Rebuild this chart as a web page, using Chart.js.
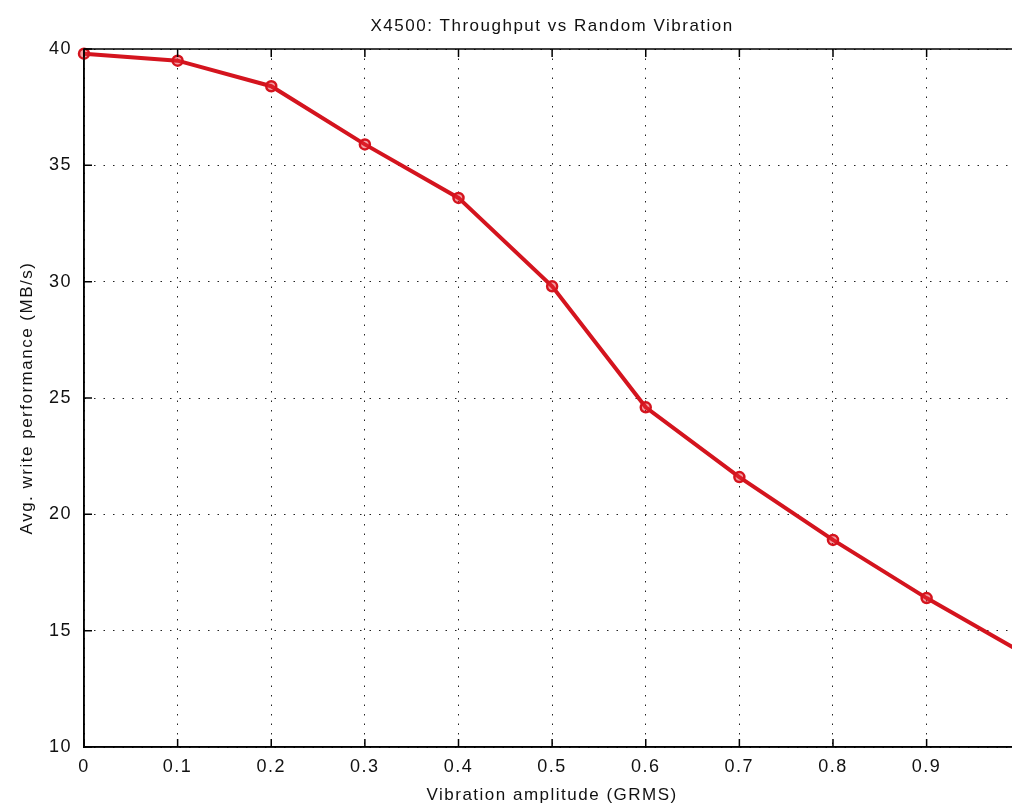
<!DOCTYPE html>
<html>
<head>
<meta charset="utf-8">
<title>X4500: Throughput vs Random Vibration</title>
<script src="https://cdn.jsdelivr.net/npm/chart.js@4.4.1/dist/chart.umd.min.js"></script>
<style>
    html, body { margin: 0; padding: 0; background: #ffffff; overflow: hidden; }
    #wrap { width: 1035px; height: 807px; }
</style>
</head>
<body>
<div id="wrap"><canvas id="vibChart"></canvas></div>
<script>
const amplitude = [0, 0.1, 0.2, 0.3, 0.4, 0.5, 0.6, 0.7, 0.8, 0.9, 1.0];
const writeRate = [39.8, 39.5, 38.4, 35.9, 33.6, 29.8, 24.6, 21.6, 18.9, 16.4, 14.1];
const yTicks = [10, 15, 20, 25, 30, 35, 40];

const fontFamily = "'Liberation Sans', Arial, sans-serif";

// letter spacing has to be reapplied, the canvas resets it on resize
const spacingPlugin = {
    id: 'spacing',
    beforeUpdate(chart) { chart.ctx.letterSpacing = '1.5px'; },
    beforeRender(chart) { chart.ctx.letterSpacing = '1.5px'; }
};

// box round the axes plus the inward tick marks
const boxPlugin = {
    id: 'box',
    afterDraw(chart) {
        const { ctx, chartArea: a, scales } = chart;
        ctx.save();
        ctx.strokeStyle = '#000';
        ctx.lineWidth = 1.5;
        ctx.strokeRect(a.left, a.top, a.right - a.left, a.bottom - a.top);
        ctx.beginPath();
        amplitude.forEach((v) => {
            const px = scales.x.getPixelForValue(v);
            ctx.moveTo(px, a.bottom);
            ctx.lineTo(px, a.bottom - 8);
            ctx.moveTo(px, a.top);
            ctx.lineTo(px, a.top + 8);
        });
        yTicks.forEach((v) => {
            const py = scales.y.getPixelForValue(v);
            ctx.moveTo(a.left, py);
            ctx.lineTo(a.left + 8, py);
        });
        ctx.stroke();
        ctx.restore();
    }
};

new Chart(document.getElementById('vibChart'), {
    type: 'line',
    data: {
        datasets: [{
            label: 'X4500',
            data: amplitude.map((x, i) => ({ x: x, y: writeRate[i] })),
            borderColor: '#d4141e',
            borderWidth: 4,
            tension: 0,
            pointStyle: 'circle',
            pointRadius: 5,
            pointBorderWidth: 2.5,
            pointBorderColor: '#d4141e',
            pointBackgroundColor: 'rgba(230, 40, 50, 0.45)',
            clip: false
        }]
    },
    options: {
        responsive: true,
        maintainAspectRatio: false,
        animation: false,
        layout: { padding: { right: 12 } },
        plugins: {
            legend: { display: false },
            tooltip: { enabled: false }
        },
        scales: {
            // top axis only carries the chart title, centred over the plot
            xTop: {
                type: 'linear',
                position: 'top',
                min: 0,
                max: 1,
                afterFit(scale) { scale.height = 49; },
                ticks: { display: false },
                grid: { display: false },
                border: { display: false },
                title: {
                    display: true,
                    text: 'X4500: Throughput vs Random Vibration',
                    color: '#111',
                    font: { family: fontFamily, size: 17 },
                    padding: { top: 16, bottom: 0 }
                }
            },
            x: {
                type: 'linear',
                min: 0,
                max: 1,
                afterFit(scale) { scale.height = 60; },
                ticks: {
                    stepSize: 0.1,
                    color: '#111',
                    padding: 9,
                    maxRotation: 0,
                    font: { family: fontFamily, size: 18 },
                    callback: function (v) { return Number(v.toFixed(1)).toString(); }
                },
                grid: {
                    color: '#222',
                    lineWidth: 1,
                    drawTicks: false
                },
                border: { display: true, color: '#000', width: 1.5, dash: [1.5, 8] },
                title: {
                    display: true,
                    text: 'Vibration amplitude (GRMS)',
                    color: '#111',
                    font: { family: fontFamily, size: 17 },
                    padding: { top: 0, bottom: 1 }
                }
            },
            y: {
                min: 10,
                max: 40,
                afterFit(scale) { scale.width = 84; },
                afterBuildTicks(scale) { scale.ticks = yTicks.map((v) => ({ value: v })); },
                ticks: {
                    color: '#111',
                    padding: 12,
                    font: { family: fontFamily, size: 18 }
                },
                grid: {
                    color: '#222',
                    lineWidth: 1,
                    drawTicks: false
                },
                border: { display: true, color: '#000', width: 1.5, dash: [1.5, 8] },
                title: {
                    display: true,
                    text: 'Avg. write performance (MB/s)',
                    color: '#111',
                    font: { family: fontFamily, size: 17 },
                    padding: { top: 17, bottom: 0 }
                }
            }
        }
    },
    plugins: [spacingPlugin, boxPlugin]
});
</script>
</body>
</html>
